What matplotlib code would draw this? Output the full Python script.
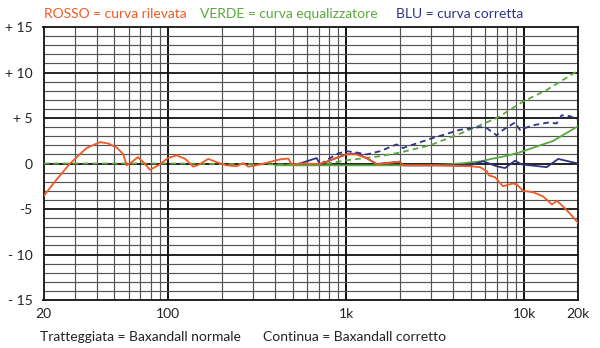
import numpy as np
import matplotlib.pyplot as plt
from matplotlib.ticker import FixedLocator, NullFormatter

plt.rcParams['font.family'] = ['Lato', 'DejaVu Sans']

# curva rilevata (rosso)
rosso_f = [20, 23.7, 28.2, 34.9, 41.5, 46.2, 52, 56.1, 58.6, 62, 67.8, 73, 79.2, 90, 100, 111.8, 125,
           138.6, 150, 168, 190, 213, 243, 264, 282, 330, 425, 473, 494, 550, 713, 850, 1005, 1135,
           1300, 1483, 2000, 2080, 3000, 4944, 5634, 6166, 6300, 6836, 7580, 8630, 9070, 9820,
           11170, 12700, 14280, 15240, 16440, 18000, 20000]
rosso_db = [-3.6, -1.75, 0.0, 1.7, 2.35, 2.2, 1.7, 1.0, -0.2, 0.1, 0.7, 0.1, -0.7, -0.1, 0.6, 0.9, 0.5,
            -0.35, -0.1, 0.5, 0.1, -0.2, -0.3, 0.05, -0.35, -0.1, 0.45, 0.55, -0.1, 0.0, -0.05, 0.5, 1.0, 1.0,
            0.6, -0.1, 0.2, -0.2, -0.2, -0.3, -0.4, -0.85, -1.3, -1.5, -2.5, -2.2, -2.3, -3.0,
            -3.15, -3.6, -4.5, -4.1, -4.7, -5.5, -6.5]

# curva equalizzatore (verde)
verde_tr_f = [20, 100, 200, 400, 550, 713, 1005, 1546, 2000, 2952, 4520, 7010, 9820, 13390, 20000]
verde_tr_db = [0.0, 0.0, -0.05, -0.1, -0.15, -0.15, 0.35, 0.8, 1.2, 2.0, 3.4, 5.0, 6.8, 8.1, 10.2]
verde_co_f = [400, 1000, 3000, 4350, 5780, 6500, 8000, 9500, 12700, 14400, 16400, 20000]
verde_co_db = [-0.2, -0.2, -0.2, 0.0, 0.25, 0.5, 0.85, 1.25, 2.1, 2.45, 3.1, 4.1]

# curva corretta (blu)
blu_tr_f = [713, 780, 900, 1005, 1150, 1303, 1546, 1918, 2080, 2952, 4348, 5634, 6140, 6980, 7600,
            8850, 9440, 11170, 13610, 15170, 16180, 18030, 20000]
blu_tr_db = [-0.1, 0.4, 1.1, 1.35, 1.2, 1.0, 1.35, 2.1, 1.7, 2.7, 3.7, 4.0, 3.9, 3.1, 3.7,
             4.5, 3.7, 4.2, 4.5, 4.4, 5.3, 5.2, 4.8]
blu_co_f = [550, 682, 713, 850, 1005, 1135, 1300, 1483, 2000, 2080, 4944, 5850, 6980, 7780, 8850,
            9660, 13340, 15480, 20000]
blu_co_db = [0.0, 0.6, -0.1, 0.5, 1.0, 1.1, 0.6, -0.05, 0.2, -0.2, -0.2, 0.25, -0.3, -0.5, 0.3,
             -0.1, -0.4, 0.5, 0.0]

x_ticks = [20, 100, 1000, 10000, 20000]
x_labels = ['20', '100', '1k', '10k', '20k']
y_ticks = [-15, -10, -5, 0, 5, 10, 15]
y_labels = ['- 15', '- 10', '-5', '0', '+ 5', '+ 10', '+ 15']

ROSSO = '#f15a24'
VERDE = '#5aa83c'
BLU = '#2e3385'

fig = plt.figure(figsize=(6, 3.48), dpi=100)
ax = fig.add_axes([43.5 / 600, 48 / 348, (578 - 43.5) / 600, (300 - 27) / 348])
ax.set_xscale('log')
ax.set_xlim(20, 20000)
ax.set_ylim(-15, 15)

minor_x = [m * 10 ** e for e in range(1, 5) for m in range(2, 10) if 20 <= m * 10 ** e <= 20000]
for f in minor_x:
    ax.axvline(f, color='#555555', lw=0.85, zorder=1)
for f in [100, 1000, 10000]:
    ax.axvline(f, color='#111111', lw=1.4, zorder=1)
for y in range(-14, 15):
    if y % 5 == 0:
        ax.axhline(y, color='#111111', lw=1.3, zorder=1)
    else:
        ax.axhline(y, color='#555555', lw=0.85, zorder=1)

dash = (0, (3.2, 2.2))
ax.plot(verde_co_f, verde_co_db, color=VERDE, lw=1.3, zorder=3)
ax.plot(verde_tr_f, verde_tr_db, color=VERDE, lw=1.3, ls=dash, zorder=3)
ax.plot(blu_tr_f, blu_tr_db, color=BLU, lw=1.3, ls=dash, zorder=4)
ax.plot(blu_co_f, blu_co_db, color=BLU, lw=1.3, zorder=4)
ax.plot(rosso_f, rosso_db, color=ROSSO, lw=1.3, zorder=5)

ax.xaxis.set_major_locator(FixedLocator(x_ticks))
ax.set_xticklabels(x_labels)
ax.xaxis.set_minor_locator(FixedLocator([]))
ax.xaxis.set_minor_formatter(NullFormatter())
ax.set_yticks(y_ticks)
ax.set_yticklabels(y_labels)
ax.tick_params(length=0, labelsize=10, colors='#222222')
ax.tick_params(axis='x', pad=6)
ax.tick_params(axis='y', pad=8)
for s in ax.spines.values():
    s.set_color('#111111')
    s.set_linewidth(1.3)

def px(x, y):
    return x / 600, 1 - y / 348

fig.text(*px(43.5, 14.5), 'ROSSO = curva rilevata', color=ROSSO, fontsize=10, va='center')
fig.text(*px(200, 14.5), 'VERDE = curva equalizzatore', color=VERDE, fontsize=10, va='center')
fig.text(*px(396, 14.5), 'BLU = curva corretta', color=BLU, fontsize=10, va='center')
fig.text(*px(40, 337), 'Tratteggiata = Baxandall normale', color='#222222', fontsize=10, va='center')
fig.text(*px(263, 337), 'Continua = Baxandall corretto', color='#222222', fontsize=10, va='center')

fig.savefig('out.png', dpi=100)
